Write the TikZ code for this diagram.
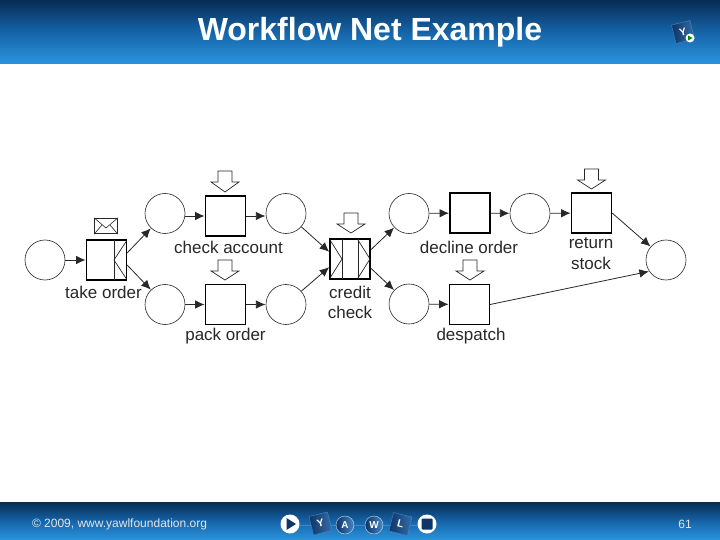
\documentclass[tikz,border=0pt]{standalone}
\usepackage{fontspec}
\setmainfont{Liberation Sans}
\usetikzlibrary{arrows.meta}
\definecolor{barTop}{RGB}{6,44,84}
\definecolor{barMid}{RGB}{22,100,168}
\definecolor{barBot}{RGB}{42,148,222}
\definecolor{ink}{RGB}{40,40,40}
\definecolor{logoDark}{RGB}{14,52,104}
\definecolor{logoLight}{RGB}{70,135,195}
\tikzset{
  x=1bp,y=-1bp,
  place/.style={circle,draw=ink,line width=0.6bp,minimum size=40bp,inner sep=0pt,fill=white},
  task/.style={rectangle,draw=black,line width=1.2bp,minimum size=40bp,inner sep=0pt,fill=white},
  lbl/.style={text=ink,font=\fontsize{17bp}{19bp}\selectfont,inner sep=0pt},
  flow/.style={draw=ink,line width=0.8bp,-{Latex[length=9.5bp,width=8.5bp]},shorten >=0.3bp},
  inner/.style={draw=ink,line width=0.7bp},
  trig/.style={draw=ink,line width=0.7bp,fill=white,line join=miter},
  bar/.style={top color=barTop,bottom color=barBot,middle color=barMid,draw=none},
  tile/.style={rectangle,minimum size=19bp,inner sep=0pt,draw=logoLight,line width=0.4bp,left color=logoDark,right color=logoLight!70!logoDark,text=white,font=\bfseries\fontsize{10.5bp}{10.5bp}\selectfont},
  ball/.style={circle,minimum size=18bp,inner sep=0pt,draw=white!70!logoLight,line width=0.4bp,left color=logoDark,right color=logoLight,text=white,font=\bfseries\fontsize{10bp}{10bp}\selectfont},
  whiteball/.style={circle,minimum size=19bp,inner sep=0pt,fill=white,draw=none},
}
\begin{document}
\begin{tikzpicture}
\useasboundingbox (0,0) rectangle (720,540);
\fill[white] (0,0) rectangle (720,540);
% bars
\path[bar] (0,0) rectangle (720,64);
\path[bar] (0,502) rectangle (720,540);
\node[text=white,inner sep=0pt,font=\bfseries\fontsize{32bp}{36bp}\selectfont] (title) at (370,32) {Workflow Net Example};
\node[text=white!90!black,inner sep=0pt,font=\fontsize{12bp}{14bp}\selectfont] (copy) at (119.5,524) {© 2009, www.yawlfoundation.org};
\node[text=white!90!black,inner sep=0pt,font=\fontsize{12bp}{14bp}\selectfont] (pageno) at (685,524) {61};
% top logo
\node[tile,rotate=14] (toplogo) at (683,32) {Y};
\node[circle,fill=white,minimum size=9bp,inner sep=0pt] (topball) at (690,38) {};
\fill[green!55!black] (688,35.5) -- (692.5,38) -- (688,40.5) -- cycle;
% footer logo
\draw[logoLight,line width=0.5bp] (300,525) -- (420,525);
\node[whiteball] (fplay) at (290,524) {};
\fill[logoDark] (286.5,518) -- (296,524) -- (286.5,530) -- cycle;
\node[tile,rotate=14] (fy) at (320.5,523.5) {Y};
\node[ball] (fa) at (345,525) {A};
\node[ball] (fw) at (374,525) {W};
\node[tile,rotate=-14] (fl) at (400.5,524) {L};
\node[whiteball] (fstop) at (427,524) {};
\fill[rounded corners=1bp,logoDark] (421.5,518.5) rectangle (432.5,529.5);
% places
\node[place] (p0) at (45,260) {};
\node[place] (p1) at (165,213.5) {};
\node[place] (p2) at (286,213.5) {};
\node[place] (p3) at (165,304.5) {};
\node[place] (p4) at (286,304.5) {};
\node[place] (p5) at (409,213.5) {};
\node[place] (p6) at (409,304) {};
\node[place] (p7) at (530,213.5) {};
\node[place] (p8) at (666,260) {};
% tasks
\node[task] (take) at (106.5,260) {};
\node[task] (check) at (225.5,216) {};
\node[task] (pack) at (225.5,304.5) {};
\node[task] (credit) at (350,259) {};
\node[task] (decline) at (470,213) {};
\node[task] (ret) at (591.5,213) {};
\node[task] (desp) at (469.5,304.5) {};
% task decorators
\draw[inner] (114,240) -- (114,280);
\draw[inner] (126.5,241) -- (114,260) -- (126.5,279);
\draw[inner] (342,239) -- (342,279);
\draw[inner] (358,239) -- (358,279);
\draw[inner] (330,240) -- (342,259) -- (330,278);
\draw[inner] (358,240) -- (370,259) -- (358,278);
% trigger: message
\node[rectangle,draw=ink,line width=1bp,fill=white,minimum width=23bp,minimum height=15.5bp,inner sep=0pt] (env) at (106,226) {};
\draw[ink,line width=0.6bp] (env.north west) -- (106,228) -- (env.north east);
\draw[ink,line width=0.6bp] (env.south west) -- (102,225);
\draw[ink,line width=0.6bp] (env.south east) -- (110,225);
% triggers: block arrows
\newcommand{\blockarrow}[3]{% x top-y tip-y
  \path[trig] (#1-7,#2) -- (#1+7,#2) -- (#1+7,#2+11) -- (#1+14,#2+11) -- (#1,#3) -- (#1-14,#2+11) -- (#1-7,#2+11) -- cycle;}
\blockarrow{225}{171}{192}
\blockarrow{225}{260}{280}
\blockarrow{351}{213}{233}
\blockarrow{470}{260}{280}
\blockarrow{591.5}{169}{189}
% flows
\draw[flow] (p0) -- (take);
\draw[flow] ([yshift=7bp]take.east) -- (p1);
\draw[flow] ([yshift=-5bp]take.east) -- (p3);
\draw[flow] (p1.east |- check.west) -- (check.west);
\draw[flow] (check.east) -- (p2.west |- check.east);
\draw[flow] (p3) -- (pack);
\draw[flow] (pack) -- (p4);
\draw[flow] (p2.-41) -- ([yshift=7bp]credit.west);
\draw[flow] (p4.41) -- ([yshift=-8bp]credit.west);
\draw[flow] ([yshift=9bp]credit.east) -- (p5);
\draw[flow] ([yshift=-9bp]credit.east) -- (p6);
\draw[flow] (p5) -- (decline);
\draw[flow] (decline) -- (p7);
\draw[flow] (p7) -- (ret);
\draw[flow] (p6) -- (desp);
\draw[flow] (ret.east) -- (p8);
\draw[flow] (desp.east) -- (p8.214);
% labels
\node[lbl] (ltake) at (103.5,292.5) {take order};
\node[lbl] (lcheck) at (228.5,247.5) {check account};
\node[lbl] (lpack) at (225.5,336.5) {pack order};
\node[lbl] (lcredit1) at (350,292.5) {credit};
\node[lbl] (lcredit2) at (350,312.5) {check};
\node[lbl] (ldecline) at (469,247.5) {decline order};
\node[lbl] (lret1) at (591,243.5) {return};
\node[lbl] (lret2) at (591,263.5) {stock};
\node[lbl] (ldesp) at (471,336.5) {despatch};
\end{tikzpicture}
\end{document}
